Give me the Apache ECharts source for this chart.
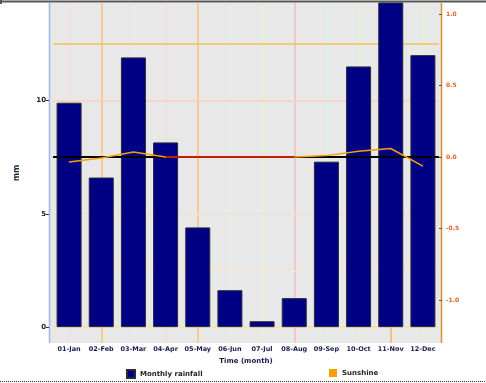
<!DOCTYPE html>
<html><head><meta charset="utf-8">
<script src="https://cdn.jsdelivr.net/npm/echarts@6/dist/echarts.min.js"></script>
<style>html,body{margin:0;padding:0;background:#fff}#c{width:486px;height:383px}</style>
</head><body><div id="c"></div>
<script>
const categories = ['01-Jan','02-Feb','03-Mar','04-Apr','05-May','06-Jun','07-Jul','08-Aug','09-Sep','10-Oct','11-Nov','12-Dec'];
const rainfall = [9.9, 6.6, 11.9, 8.15, 4.4, 1.63, 0.26, 1.28, 7.3, 11.5, 14.6, 12.0];
const sunshine = [-0.035, -0.007, 0.035, 0.0, 0.0, 0.0, 0.0, 0.0, 0.01, 0.04, 0.06, -0.063];
const leftTicks = [0, 5, 10];
const leftGrid = [0, 2.5, 5, 7.5, 10, 12.5];
const rightTicks = [-1.0, -0.5, 0.0, 0.5, 1.0];
const refLevel = 7.5;
const vGridColors = ['#f6dbe3','#f7c47a','#ececec','#f6ddd8','#f7c47a','#dff6e2','#e6f6cc','#f6bcbc','#d9f6e6','#e0f6d4','#f7b658','#e0f6d4'];
const hGridColors = ['#f5e4a8','#f3e6d6','#efe2d6','#f7c9a9','#f7d0ba','#f5c15a'];

const chart = echarts.init(document.getElementById('c'));
chart.setOption({
  animation: false,
  graphic: [
    {type:'rect', shape:{x:49,y:3,width:393,height:340}, style:{fill:'#e8e8e8'}, z:-10},
    {type:'line', shape:{x1:0,y1:1.5,x2:486,y2:1.5}, style:{stroke:'#555',lineWidth:2}},
    {type:'line', shape:{x1:1,y1:0,x2:1,y2:4}, style:{stroke:'#555',lineWidth:2}},
    {type:'line', shape:{x1:0,y1:381.5,x2:486,y2:381.5}, style:{stroke:'#333',lineWidth:1,lineDash:[1,1]}},
    {type:'line', shape:{x1:49.5,y1:3,x2:49.5,y2:343}, style:{stroke:'#9db7e6',lineWidth:1.5}},
    {type:'line', shape:{x1:441.5,y1:3,x2:441.5,y2:343}, style:{stroke:'#e0902a',lineWidth:1.5}}
  ],
  grid: {left:53, right:47, top:3, bottom:40},
  legend: [
    {data:['Monthly rainfall'], left:121, top:364, itemWidth:8, itemHeight:8, itemGap:2, icon:'rect',
     textStyle:{fontSize:7, color:'#222', fontWeight:'bold', fontFamily:'DejaVu Sans'}},
    {data:['Sunshine'], left:324, top:364, itemWidth:8, itemHeight:8, itemGap:2, icon:'rect',
     itemStyle:{color:'#f5a000'},
     textStyle:{fontSize:7, color:'#222', fontWeight:'bold', fontFamily:'DejaVu Sans'}}
  ],
  xAxis: {
    type:'category', data:categories, boundaryGap:true,
    axisLine:{show:false}, axisTick:{show:false}, splitLine:{show:false},
    axisLabel:{fontSize:6.5, color:'#1a1a50', fontWeight:'bold', margin:3, fontFamily:'DejaVu Sans', interval:0},
    name:'Time (month)', nameLocation:'middle', nameGap:12,
    nameTextStyle:{fontSize:7, color:'#1a1a50', fontWeight:'bold', fontFamily:'DejaVu Sans'}
  },
  yAxis: [
    {type:'value', min:-0.7, max:14.3, offset:4,
     axisLine:{show:false}, splitLine:{show:false},
     axisTick:{show:true, customValues:leftTicks, length:3, lineStyle:{color:'#333'}},
     axisLabel:{customValues:leftTicks, fontSize:7, color:'#222', fontWeight:'bold', margin:3, fontFamily:'DejaVu Sans'},
     name:'mm', nameLocation:'middle', nameGap:28, nameRotate:90,
     nameTextStyle:{fontSize:8, color:'#1a2a40', fontWeight:'bold', fontFamily:'DejaVu Sans'}},
    {type:'value', min:-1.30, max:1.077, offset:3, position:'right',
     axisLine:{show:false}, splitLine:{show:false},
     axisTick:{show:true, customValues:rightTicks, length:3, inside:true, lineStyle:{color:'#555'}},
     axisLabel:{customValues:rightTicks, fontSize:6, color:'#e0601a', fontWeight:'bold', margin:4, fontFamily:'DejaVu Sans',
       formatter: v => v.toFixed(1)}}
  ],
  visualMap: {show:false, seriesIndex:2, dimension:0,
    pieces:[{lt:3, color:'#f5a000'},{gte:3, lte:7, color:'#ff2a00'},{gt:7, color:'#f5a000'}]},
  series: [
    {type:'scatter', data:[], silent:true, z:0, yAxisIndex:0,
     markLine:{silent:true, symbol:'none', label:{show:false}, z:0,
       data: categories.map((c,i)=>({xAxis:c, lineStyle:{color:vGridColors[i], width:1.5, type:'solid'}}))
         .concat(leftGrid.map((v,i)=>({yAxis:v, lineStyle:{color:hGridColors[i], width:1.5, type:'solid'}})))}},
    {name:'Monthly rainfall', type:'bar', data:rainfall, barWidth:25, yAxisIndex:0, z:2,
     itemStyle:{color:'#000085', borderColor:'#2a2a3a', borderWidth:1},
     markLine:{silent:true, symbol:'none', label:{show:false}, z:3,
       data:[{yAxis:refLevel}], lineStyle:{color:'#000', width:2, type:'solid'}}},
    {name:'Sunshine', type:'line', data:sunshine, yAxisIndex:1, z:4, showSymbol:false, symbol:'none',
     itemStyle:{color:'#f5a000'}, lineStyle:{width:1.5}}
  ]
});
</script></body></html>
